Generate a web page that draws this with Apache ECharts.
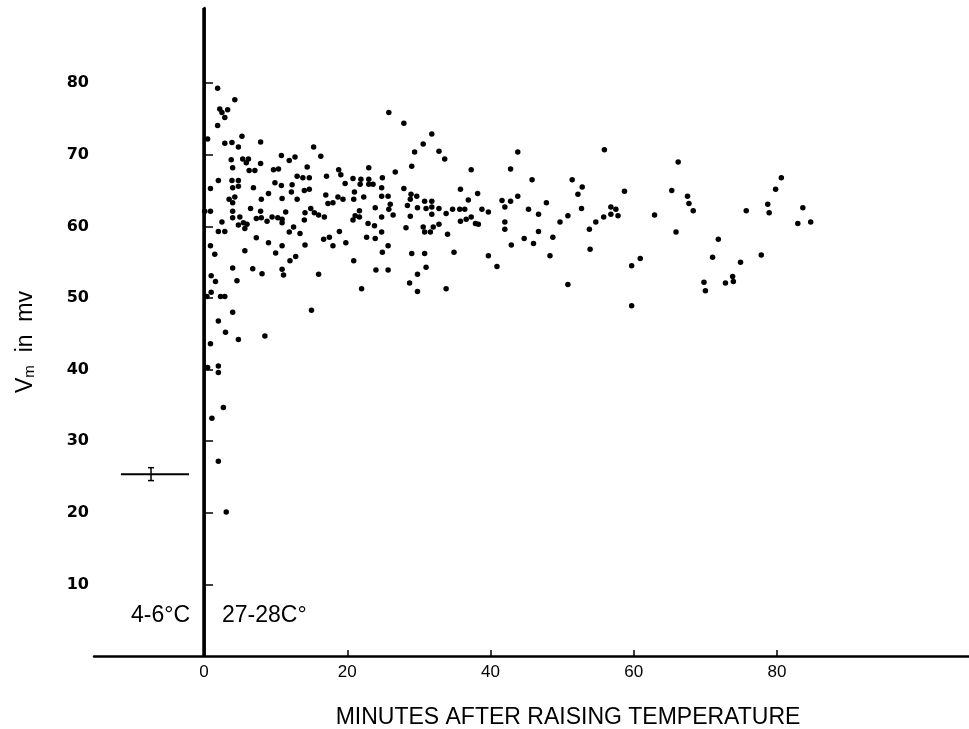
<!DOCTYPE html>
<html>
<head>
<meta charset="utf-8">
<script src="https://cdn.jsdelivr.net/npm/echarts@6/dist/echarts.min.js"></script>
<style>html,body{margin:0;padding:0;background:#fff;}#chart{width:969px;height:729px;}</style>
</head>
<body>
<div id="chart"></div>
<script>
// Minutes after raising temperature (x) and Vm in mV (y), warm (27-28 C) measurements
const minutes = [
1.9,4.3,2.2,2.5,3.3,2.9,1.9,0.5,5.3,2.9,3.9,4.8,7.9,15.3,16.3,10.8,12.7,11.9,3.8,5.4,6.2,5.9,7.9,4.0,6.3,7.1,9.7,10.4,14.4,2.0,3.9,4.8,13.0,13.8,14.7,0.9,4.0,4.8,6.9,9.9,10.8,12.3,14.0,14.7,9.0,12.2,4.3,3.5,4.0,8.0,10.9,13.0,6.5,14.9,14.1,15.4,4.0,7.9,11.4,0.1,0.9,16.0,16.8,4.0,5.0,7.3,8.0,8.8,9.5,10.3,10.9,10.9,14.0,2.5,5.5,6.0,4.8,5.7,7.3,2.0,2.9,11.9,12.5,13.4,
16.7,0.9,1.5,9.0,10.9,5.7,10.0,14.1,12.8,12.0,4.0,6.8,8.1,10.9,11.1,16.0,1.0,1.6,4.6,1.0,0.4,2.3,2.9,4.0,15.0,2.0,3.0,4.8,8.5,0.9,0.5,2.0,2.0,
2.7,1.1,2.0,3.1,
25.8,27.9,31.8,30.6,29.4,32.8,33.6,23.0,29.0,18.8,19.1,17.1,20.8,21.9,23.0,24.9,19.7,21.8,23.0,23.6,26.7,24.8,27.9,21.0,17.0,28.9,29.7,18.7,19.4,20.9,22.3,24.8,25.7,17.3,18.0,26.0,28.8,28.4,30.8,31.8,31.8,29.8,31.0,32.8,23.9,25.8,31.8,33.8,21.7,21.1,21.7,20.8,24.8,26.4,28.8,22.9,23.8,28.2,30.6,30.8,31.6,32.0,32.8,34.0,18.9,24.8,17.5,18.0,19.8,22.7,23.9,25.7,24.9,20.9,24.0,25.7,29.0,30.8,31.0,29.8,28.7,29.8,22.0,33.8,
43.8,37.3,42.8,45.8,35.8,38.2,36.9,41.6,42.8,43.8,42.0,47.8,34.7,35.7,36.4,38.8,39.7,45.3,46.7,50.8,49.7,35.8,36.6,37.3,37.9,38.3,42.0,42.0,46.7,44.7,46.0,48.7,42.9,34.9,39.7,48.3,40.9,50.8,
55.9,66.2,51.4,52.8,52.2,58.7,65.3,67.5,67.7,52.7,56.8,57.5,56.8,57.8,55.8,54.7,62.9,53.8,65.9,53.9,60.9,59.7,59.7,
80.6,79.8,68.3,75.7,78.7,78.9,83.6,82.9,84.7,71.8,71.0,74.9,77.8,69.8,70.0,72.8,73.8,73.9
];
const vm = [
79.3,77.7,76.4,75.9,76.3,75.2,74.1,72.2,72.6,71.6,71.7,71.1,71.8,71.1,69.8,69.9,69.7,69.2,69.3,69.4,69.4,68.9,68.8,68.2,67.8,67.8,67.9,68.0,68.3,66.4,66.4,66.4,67.0,66.8,66.8,65.3,65.4,65.6,65.4,66.1,65.7,65.8,65.0,65.2,64.6,64.8,64.1,63.8,63.3,63.8,63.9,63.8,62.5,62.5,61.9,61.9,62.1,62.1,62.0,62.1,62.1,61.6,61.3,61.2,61.3,61.1,61.2,60.7,61.3,61.2,61.0,60.5,60.9,60.6,60.5,60.3,60.2,59.7,58.4,59.3,59.3,59.2,59.9,59.0,
58.2,57.3,56.1,57.7,57.3,56.6,56.3,57.4,55.8,55.2,54.2,54.1,53.4,54.0,53.2,53.3,53.1,52.3,52.4,50.8,50.2,50.2,50.2,48.0,48.3,46.8,45.2,44.2,44.7,43.6,40.3,40.5,39.6,
34.7,33.2,27.2,20.1,
75.9,74.4,72.9,71.5,70.4,70.5,69.4,68.2,68.4,67.9,67.2,67.0,66.7,66.6,66.6,66.8,66.0,65.9,65.9,65.9,67.6,65.4,65.3,64.8,64.4,64.5,64.2,64.1,63.8,63.8,64.1,64.2,64.2,63.2,63.3,63.1,63.8,62.9,63.5,63.5,62.7,62.6,62.5,62.5,62.6,62.4,61.7,61.8,62.2,61.5,61.3,60.9,61.3,61.6,61.4,60.4,60.1,59.8,59.9,59.2,59.2,59.9,60.3,58.9,59.3,59.2,58.5,57.3,57.7,58.5,58.3,57.3,56.4,55.2,53.9,53.9,56.2,56.2,54.3,53.3,52.1,50.9,51.3,51.3,
70.4,67.9,68.0,66.5,65.2,64.6,63.7,63.6,63.5,64.2,62.7,63.3,62.4,62.4,62.4,62.4,62.0,62.4,61.7,61.5,60.6,60.7,61.0,61.3,60.4,60.3,60.6,59.6,59.3,58.3,57.6,58.5,57.4,56.4,55.9,55.9,54.4,51.9,
70.7,69.0,66.5,65.5,64.5,64.9,65.0,64.2,63.2,62.5,62.7,62.4,61.7,61.5,61.3,60.6,61.6,59.6,59.2,56.8,55.5,54.5,48.9,
66.8,65.2,62.2,62.2,63.1,61.9,62.6,60.4,60.6,58.2,55.7,55.0,56.0,52.2,51.0,52.1,53.0,52.3
];
// Cold (4-6 C) mean with its spread, drawn as a bar over the pre-warming period
const coldSpan = [-11.6, -2.1];
const coldMean = 25.4;
const coldErrX = -7.4;
const coldErr = [24.5, 26.3];
const xTicks = [0, 20, 40, 60, 80];
const yTicks = [10, 20, 30, 40, 50, 60, 70, 80];

const points = minutes.map((m, i) => [m, vm[i]]);

const chart = echarts.init(document.getElementById('chart'), null, {renderer: 'canvas'});
chart.setOption({
  backgroundColor: '#fff',
  animation: false,
  grid: {left: 94, right: 0, top: 8, bottom: 73, containLabel: false},
  xAxis: {
    type: 'value', min: -15.36, max: 106.8,
    axisLine: {show: true, lineStyle: {color: '#000', width: 2.5}},
    axisTick: {show: true, inside: true, length: 6, customValues: xTicks.filter(v => v !== 0), lineStyle: {color: '#000', width: 1.5}},
    axisLabel: {customValues: xTicks, color: '#000', fontFamily: 'Liberation Sans', fontSize: 17, margin: 8},
    splitLine: {show: false}
  },
  yAxis: {
    type: 'value', min: 0, max: 90.5, interval: 10,
    axisLine: {show: true, lineStyle: {color: '#000', width: 2.5}},
    axisTick: {show: true, inside: true, length: 9, customValues: yTicks, lineStyle: {color: '#000', width: 1.5}},
    axisLabel: {customValues: yTicks, color: '#000', fontFamily: 'DejaVu Sans', fontWeight: 'bold', fontSize: 16, margin: 5},
    splitLine: {show: false}
  },
  graphic: [
    {type: 'text', left: 131, top: 604, style: {text: '4-6°C', font: '23px "Liberation Sans", sans-serif', fill: '#000'}},
    {type: 'text', left: 222, top: 604, style: {text: '27-28C°', font: '23px "Liberation Sans", sans-serif', fill: '#000'}},
    {type: 'text', x: 568, y: 718, style: {text: 'MINUTES AFTER RAISING TEMPERATURE', font: '23px "Liberation Sans", sans-serif', fill: '#000', align: 'center', verticalAlign: 'middle'}},
    {type: 'text', x: 26, y: 342, rotation: Math.PI / 2,
      style: {text: 'V{s|m}  in  mv', align: 'center', verticalAlign: 'middle', fill: '#000', font: '23px "Liberation Sans", sans-serif',
        rich: {s: {fontSize: 15, fontFamily: 'Liberation Sans', verticalAlign: 'bottom', padding: [8, 0, 0, 0]}}}}
  ],
  series: [
    {
      type: 'scatter', data: points, symbol: 'circle', symbolSize: 5.5,
      itemStyle: {color: '#000', opacity: 1},
      markLine: {silent: true, symbol: 'none', label: {show: false},
        lineStyle: {color: '#000', width: 3.5, type: 'solid', opacity: 1}, data: [{xAxis: 0}]}
    },
    {
      type: 'line', data: [[coldSpan[0], coldMean], [coldSpan[1], coldMean]], symbol: 'none',
      lineStyle: {color: '#000', width: 2}
    },
    {
      type: 'custom', data: [[coldErrX, coldErr[0], coldErr[1]]],
      renderItem: function (params, api) {
        const lo = api.coord([api.value(0), api.value(1)]);
        const hi = api.coord([api.value(0), api.value(2)]);
        const w = 3;
        const st = {stroke: '#000', lineWidth: 1.5};
        return {type: 'group', children: [
          {type: 'line', shape: {x1: lo[0], y1: lo[1], x2: hi[0], y2: hi[1]}, style: st},
          {type: 'line', shape: {x1: lo[0] - w, y1: lo[1], x2: lo[0] + w, y2: lo[1]}, style: st},
          {type: 'line', shape: {x1: hi[0] - w, y1: hi[1], x2: hi[0] + w, y2: hi[1]}, style: st}
        ]};
      }
    }
  ]
});
</script>
</body>
</html>
